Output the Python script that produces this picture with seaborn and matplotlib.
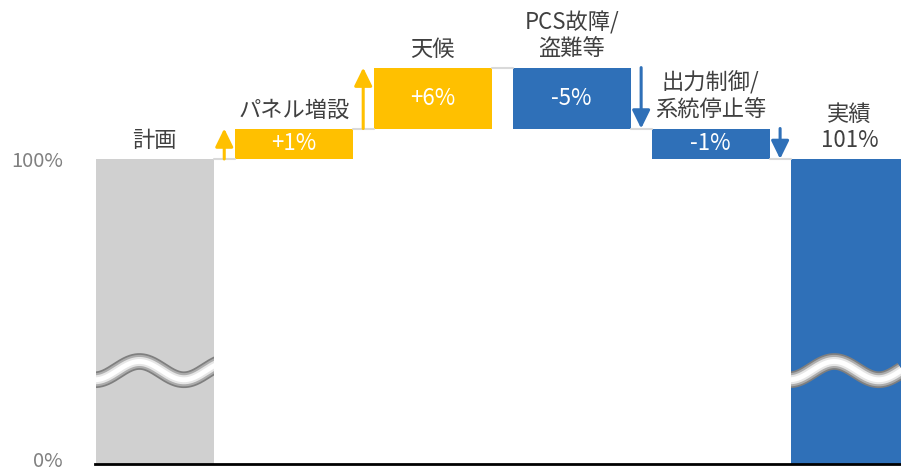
import matplotlib.pyplot as plt
import matplotlib.patheffects as pe
import matplotlib.transforms as mtransforms
import numpy as np
import pandas as pd
import seaborn as sns

# categories (labels shown above each bar)
categories = ["計画", "パネル増設", "天候", "PCS故障/\n盗難等", "出力制御/\n系統停止等", "実績\n101%"]
# bar heights as drawn in the (schematic) chart: plan, then the steps
plan_height = 100
step_heights = [10, 20, -20, -10]
step_labels = ["+1%", "+6%", "-5%", "-1%"]
ytick_values = [0, 100]
ytick_labels = ["0%", "100%"]

GRAY = "#D0D0D0"
YELLOW = "#FFC000"
BLUE = "#2F70B8"
TEXT = "#404040"

sns.set_theme(style="white")
plt.rcParams["font.family"] = ["Noto Sans CJK JP", "DejaVu Sans"]

# running level after each step
levels = [plan_height]
for s in step_heights:
    levels.append(levels[-1] + s)

heights = [plan_height] + [abs(s) for s in step_heights] + [levels[-1]]
bottoms = [0] + [min(levels[i], levels[i + 1]) for i in range(len(step_heights))] + [0]
colors = [GRAY] + [YELLOW if s > 0 else BLUE for s in step_heights] + [BLUE]

df = pd.DataFrame({"cat": categories, "height": heights, "bottom": bottoms})

fig, ax = plt.subplots(figsize=(9.01, 4.72), dpi=100)
fig.subplots_adjust(left=95 / 901, right=1.0, bottom=8.5 / 472, top=1.0)

sns.barplot(data=df, x="cat", y="height", hue="cat", palette=colors, legend=False,
            width=0.85, saturation=1, ax=ax)

# lift the floating bars to their bottoms
bar_by_idx = {}
for patch in ax.patches:
    idx = int(round(patch.get_x() + patch.get_width() / 2))
    patch.set_y(bottoms[idx])
    patch.set_edgecolor("none")
    bar_by_idx[idx] = patch

ax.set_xlim(-0.43, 5.37)
ax.set_ylim(0, 152.2)

# connector lines between bars
half = 0.425
for i in range(len(levels)):
    ax.plot([i + half, i + 1 - half], [levels[i], levels[i]], color="#D9D9D9", lw=1.5, zorder=1)

# arrows beside the step bars
for j, s in enumerate(step_heights):
    i = j + 1
    if s > 0:
        x, col = i - 0.5, YELLOW
    else:
        x, col = i + 0.5, BLUE
    ax.annotate("", xy=(x, levels[j + 1]), xytext=(x, levels[j]),
                arrowprops=dict(arrowstyle="-|>,head_length=0.55,head_width=0.27",
                                color=col, lw=2.2, mutation_scale=20,
                                shrinkA=0, shrinkB=0))
    # value label inside the bar
    ax.text(i, bottoms[i] + heights[i] / 2, step_labels[j], ha="center", va="center",
            color="white", fontsize=16)

# category labels above bars
for i, cat in enumerate(categories):
    top = bottoms[i] + heights[i]
    ax.annotate(cat, xy=(i, top), xytext=(0, 5), textcoords="offset points",
                ha="center", va="bottom", fontsize=16, color=TEXT, linespacing=1.2)

# axis-break waves on the full bars
t = np.linspace(-0.5, 0.5, 200)
wave = 30.5 + 3.0 * np.cos(2 * np.pi * (t + 0.11) / 0.64)
for i in (0, len(categories) - 1):
    line, = ax.plot(i + t, wave, color="white", lw=3.5, solid_capstyle="butt", zorder=3,
                    path_effects=[pe.Stroke(linewidth=12, foreground="#7F7F7F"),
                                  pe.Stroke(linewidth=9.5, foreground="#ADADAD"),
                                  pe.Stroke(linewidth=6.5, foreground="#E6E6E6"),
                                  pe.Normal()])
    line.set_clip_path(bar_by_idx[i])

ax.set_yticks(ytick_values, ytick_labels)
ax.tick_params(axis="y", length=0, pad=23, labelsize=14.5, labelcolor="#808080")
# keep the 0% label inside the picture
lab0 = ax.get_yticklabels()[0]
lab0.set_transform(lab0.get_transform() + mtransforms.ScaledTranslation(0, 3 / 72, fig.dpi_scale_trans))
ax.set_xticks([])
ax.set_xlabel("")
ax.set_ylabel("")
for side in ("top", "right", "left"):
    ax.spines[side].set_visible(False)
ax.spines["bottom"].set_color("black")
ax.spines["bottom"].set_linewidth(2)

fig.savefig("out.png", dpi=100)
